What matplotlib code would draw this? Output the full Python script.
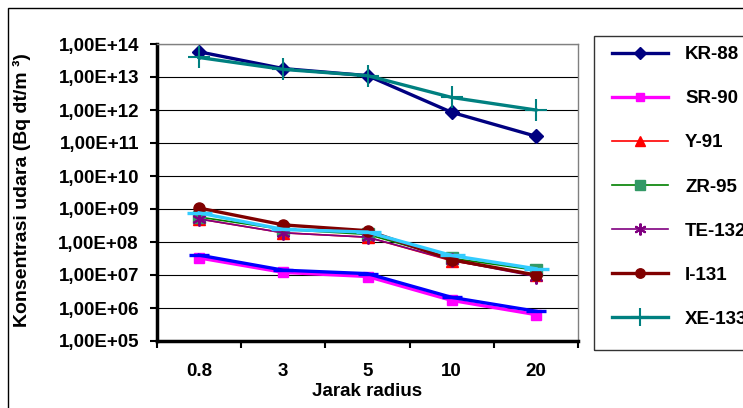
import matplotlib
matplotlib.use("Agg")
import matplotlib.pyplot as plt
from matplotlib.patches import Rectangle

plt.rcParams['font.family'] = ['Liberation Sans', 'DejaVu Sans']
plt.rcParams['font.weight'] = 'bold'

jarak = ["0.8", "3", "5", "10", "20"]

kr88 = [5.8e13, 1.8e13, 1.1e13, 8.5e11, 1.6e11]
sr90 = [3.3e7, 1.2e7, 9.0e6, 1.7e6, 6.3e5]
y91 = [5.0e8, 1.9e8, 1.4e8, 2.7e7, 1.0e7]
zr95 = [5.7e8, 2.4e8, 1.7e8, 3.2e7, 1.4e7]
te132 = [5.0e8, 1.9e8, 1.4e8, 2.8e7, 9.0e6]
i131 = [1.07e9, 3.3e8, 2.2e8, 2.9e7, 1.0e7]
xe133 = [3.9e13, 1.7e13, 1.1e13, 2.4e12, 1.0e12]
biru = [4.0e7, 1.4e7, 1.1e7, 2.1e6, 8.0e5]
cyan = [7.6e8, 2.4e8, 2.0e8, 3.9e7, 1.55e7]

FS = 13.5
W, H = 743, 408
fig = plt.figure(figsize=(W / 100, H / 100), dpi=100)
ax = fig.add_axes([157 / W, 1 - 341 / H, 421 / W, 297 / H])

x = list(range(len(jarak)))

# series not shown in the legend
ax.plot(x, biru, color="#0000FF", lw=2.4, marker="_", ms=14, mew=2.4, zorder=3)
ax.plot(x, cyan, color="#33CCFF", lw=2.4, marker="_", ms=18, mew=2.4, zorder=4)

lines = []
lines.append(ax.plot(x, kr88, color="#000080", lw=2.4, marker="D", ms=7, label="KR-88")[0])
lines.append(ax.plot(x, sr90, color="#FF00FF", lw=2.4, marker="s", ms=7, label="SR-90")[0])
lines.append(ax.plot(x, y91, color="#FF0000", lw=1.2, marker="^", ms=8, label="Y-91")[0])
lines.append(ax.plot(x, zr95, color="#008000", lw=1.2, marker="s", ms=9,
                     mfc="#339966", mec="#339966", label="ZR-95")[0])
lines.append(ax.plot(x, te132, color="#800080", lw=1.2, marker=(6, 2, 0), ms=10,
                     mew=1.5, label="TE-132")[0])
lines.append(ax.plot(x, i131, color="#800000", lw=2.4, marker="o", ms=8, label="I-131")[0])
lines.append(ax.plot(x, xe133, color="#008080", lw=2.4, marker="+", ms=16, mew=1.5,
                     label="XE-133")[0])

ax.set_yscale("log")
ax.set_ylim(1e5, 1e14)
ax.set_xlim(-0.5, len(jarak) - 0.5)

yt = [10.0 ** k for k in range(5, 15)]
ax.set_yticks(yt)
ax.set_yticklabels(["1,00E+%02d" % k for k in range(5, 15)], fontsize=FS, fontweight="bold")
ax.yaxis.set_minor_locator(matplotlib.ticker.NullLocator())
ax.tick_params(axis="y", direction="out", length=5, width=1.5, pad=8)

ax.set_xticks([i + 0.5 for i in range(-1, len(jarak))])
ax.set_xticklabels([])
ax.set_xticks(x, minor=True)
ax.set_xticklabels(jarak, minor=True, fontsize=FS, fontweight="bold")
ax.tick_params(axis="x", which="major", direction="out", length=5, width=1.5)
ax.tick_params(axis="x", which="minor", length=0, pad=16)

ax.grid(axis="y", which="major", color="black", lw=0.8)
for s in ["left", "bottom"]:
    ax.spines[s].set_linewidth(2.5)
    ax.spines[s].set_color("black")
for s in ["top", "right"]:
    ax.spines[s].set_linewidth(1)
    ax.spines[s].set_color("#808080")

fig.text(367 / W, 1 - 391 / H, "Jarak radius", ha="center", va="center",
         fontsize=FS, fontweight="bold")
fig.text(22 / W, 1 - 190 / H, "Konsentrasi udara (Bq dt/m ³)", ha="center", va="center",
         rotation=90, fontsize=14, fontweight="bold")

# outer chart border
fig.patches.append(Rectangle((8 / W, -0.1), 1.2, 1 - 8 / H + 0.1, transform=fig.transFigure,
                             fill=False, ec="black", lw=1))
# legend frame
fig.patches.append(Rectangle((594 / W, 1 - 350 / H), 0.5, (350 - 36) / H,
                             transform=fig.transFigure, fill=False, ec="#333333", lw=1))

fig.legend(handles=lines, loc="upper left", bbox_to_anchor=(597 / W, 1 - 31 / H),
           frameon=False, prop={"weight": "bold", "size": FS},
           handlelength=3.0, handletextpad=0.9, labelspacing=1.44, borderpad=0.3,
           markerscale=0.85)

fig.savefig("out.png", dpi=100)
